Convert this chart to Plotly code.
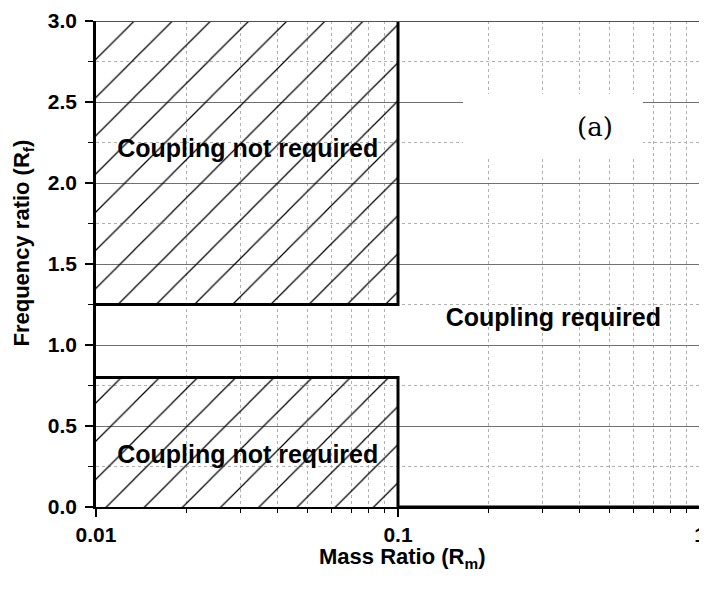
import plotly.graph_objects as go

# ---- data ----
upper_region_x = [0.01, 0.1]
upper_region_y = [1.25, 3.0]
lower_region_x = [0.01, 0.1]
lower_region_y = [0.0, 0.8]

boundary_upper_x = [0.01, 0.1, 0.1]
boundary_upper_y = [1.25, 1.25, 3.0]
boundary_lower_x = [0.01, 0.1, 0.1, 1.0]
boundary_lower_y = [0.8, 0.8, 0.0, 0.0]

region_labels = ["Coupling not required", "Coupling not required", "Coupling required"]
label_x = [0.0318, 0.0318, 0.327]
label_y = [2.2, 0.31, 1.155]

x_major = [0.01, 0.1, 1]
x_major_text = ["0.01", "0.1", "1"]
x_minor = [0.02, 0.03, 0.04, 0.05, 0.06, 0.07, 0.08, 0.09,
           0.2, 0.3, 0.4, 0.5, 0.6, 0.7, 0.8, 0.9]
y_major = [0.0, 0.5, 1.0, 1.5, 2.0, 2.5, 3.0]
y_major_text = ["0.0", "0.5", "1.0", "1.5", "2.0", "2.5", "3.0"]
y_minor = [0.25, 0.75, 1.25, 1.75, 2.25, 2.75]
y_top = 3.0

panel_label = "(a)"
x_title = "<b>Mass Ratio (R<sub>m</sub>)</b>"
y_title = "<b>Frequency ratio (R<sub>f</sub>)</b>"

FONT = "Liberation Sans, Arial, sans-serif"


def rect(xs, ys):
    return ([xs[0], xs[1], xs[1], xs[0], xs[0]],
            [ys[0], ys[0], ys[1], ys[1], ys[0]])


fig = go.Figure()

for xs, ys in [(upper_region_x, upper_region_y), (lower_region_x, lower_region_y)]:
    rx, ry = rect(xs, ys)
    fig.add_trace(go.Scatter(
        x=rx, y=ry, mode="lines", fill="toself",
        fillcolor="rgba(0,0,0,0)",
        fillpattern=dict(shape="/", fgcolor="black", bgcolor="rgba(0,0,0,0)",
                         fgopacity=1, size=27, solidity=0.045, fillmode="overlay"),
        line=dict(width=0, color="rgba(0,0,0,0)"),
        hoverinfo="skip", showlegend=False,
    ))

for bx, by in [(boundary_upper_x, boundary_upper_y), (boundary_lower_x, boundary_lower_y)]:
    fig.add_trace(go.Scatter(
        x=bx, y=by, mode="lines",
        line=dict(color="black", width=3),
        hoverinfo="skip", showlegend=False,
    ))

fig.add_trace(go.Scatter(
    x=label_x, y=label_y, mode="text",
    text=[f"<b>{t}</b>" for t in region_labels],
    textfont=dict(family=FONT, size=25, color="black"),
    textposition="middle center",
    hoverinfo="skip", showlegend=False,
))

# top border line of the frame (grid level)
fig.add_shape(type="line", xref="paper", yref="y", x0=0, x1=1, y0=y_top, y1=y_top,
              line=dict(color="#505050", width=2))

# white box (legend area) behind the panel label
fig.add_annotation(x=0.757, y=0.785, xref="paper", yref="paper",
                   text=" ", width=180, height=63, bgcolor="white",
                   borderpad=0, borderwidth=0, showarrow=False,
                   xanchor="center", yanchor="middle")
fig.add_annotation(x=0.826, y=0.782, xref="paper", yref="paper",
                   text=panel_label, showarrow=False,
                   xanchor="center", yanchor="middle",
                   font=dict(family="DejaVu Serif, Liberation Serif, serif", size=26, color="black"))

# axis titles
fig.add_annotation(x=-0.121, y=0.544, xref="paper", yref="paper",
                   text=y_title, textangle=-90, showarrow=False,
                   xanchor="center", yanchor="middle",
                   font=dict(family=FONT, size=22, color="black"))
fig.add_annotation(x=0.508, y=-0.104, xref="paper", yref="paper",
                   text=x_title, showarrow=False,
                   xanchor="center", yanchor="middle",
                   font=dict(family=FONT, size=22, color="black"))

fig.update_layout(
    width=699, height=582,
    margin=dict(l=88, r=1, t=8, b=83),
    paper_bgcolor="white", plot_bgcolor="white",
    showlegend=False,
    xaxis=dict(
        type="log", range=[-2, 0],
        tickmode="array", tickvals=x_major, ticktext=x_major_text,
        ticks="outside", ticklen=8, tickwidth=1.5, tickcolor="black",
        showline=True, linecolor="black", linewidth=2,
        showgrid=False, zeroline=False, ticklabeloverflow="allow",
        tickfont=dict(family=FONT, size=21, color="black", weight="bold"),
        minor=dict(tickvals=x_minor, ticks="outside", ticklen=4, tickwidth=1.2,
                   tickcolor="black", showgrid=True, gridcolor="#b0b0b0",
                   griddash="dot", gridwidth=1),
    ),
    yaxis=dict(
        range=[0, 3.0],
        tickmode="array", tickvals=y_major, ticktext=y_major_text,
        ticks="outside", ticklen=8, tickwidth=1.5, tickcolor="black",
        showline=True, linecolor="black", linewidth=2.5,
        showgrid=True, gridcolor="#707070", gridwidth=1,
        zeroline=False, ticklabelstandoff=4, ticklabeloverflow="allow",
        tickfont=dict(family=FONT, size=21, color="black", weight="bold"),
        minor=dict(tickvals=y_minor, ticks="outside", ticklen=5, tickwidth=1.2,
                   tickcolor="black", showgrid=True, gridcolor="#b0b0b0",
                   griddash="dot", gridwidth=1),
    ),
)

fig.write_html("out.html")
